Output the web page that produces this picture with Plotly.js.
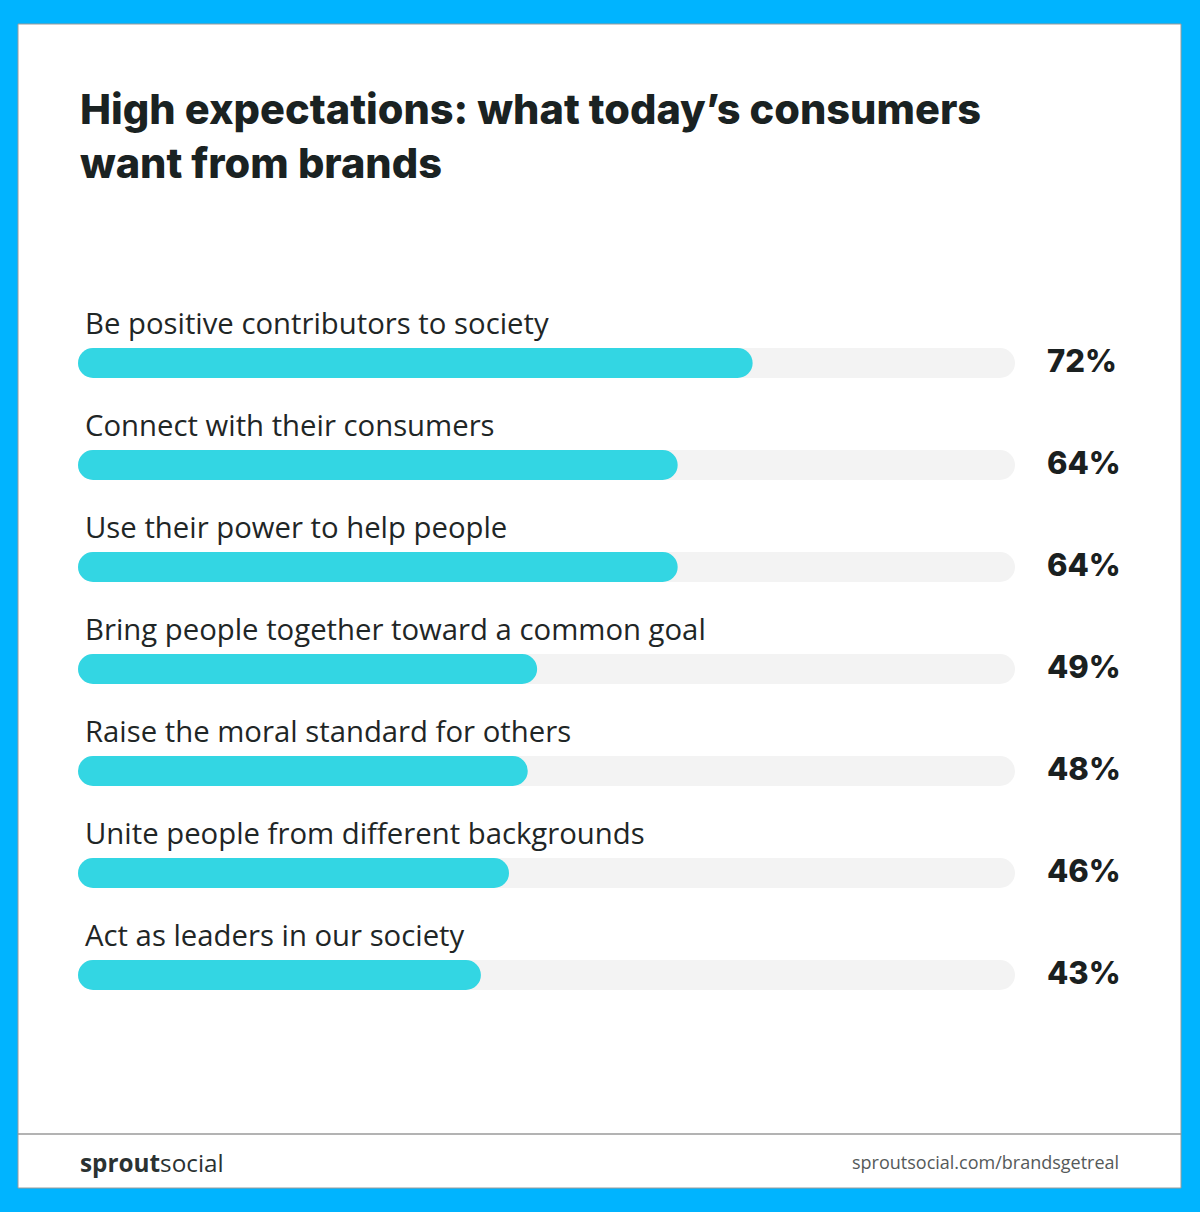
<!DOCTYPE html>
<html><head><meta charset="utf-8">
<script src="https://cdn.plot.ly/plotly-3.0.1.min.js"></script>
<style>html,body{margin:0;padding:0;background:#00B4FF;}#chart{width:1200px;height:1212px;}</style>
</head><body><div id="chart"></div>
<script>
const categories = [
  "Be positive contributors to society",
  "Connect with their consumers",
  "Use their power to help people",
  "Bring people together toward a common goal",
  "Raise the moral standard for others",
  "Unite people from different backgrounds",
  "Act as leaders in our society"
];
const values = [72, 64, 64, 49, 48, 46, 43];
const trackMax = 100;
const titleText = "High expectations: what today’s consumers<br>want from brands";
const footerLeftBold = "sprout";
const footerLeftRegular = "social";
const footerRight = "sproutsocial.com/brandsgetreal";

const W = 1200, H = 1212;
const L = 78, R = 1015, T = 312, B = 1026;
const px2x = p => (p - L) / (R - L);
const py2y = p => (B - p) / (B - T);
const barPx = 30;
const slotPx = (B - T) / categories.length;
const floatBase = 1e-6; // tiny non-zero base so both ends get rounded

const track = {
  type: 'bar', orientation: 'h', y: categories, base: floatBase, x: categories.map(() => trackMax - floatBase),
  marker: {color: '#F3F3F3', cornerradius: '50%'}, width: barPx / slotPx, hoverinfo: 'skip'
};
const fill = {
  type: 'bar', orientation: 'h', y: categories, base: floatBase, x: values.map(v => v - floatBase),
  marker: {color: '#33D6E3', cornerradius: '50%'}, width: barPx / slotPx, hoverinfo: 'skip'
};

const annotations = [];
categories.forEach((c, i) => {
  annotations.push({xref: 'paper', yref: 'y', x: px2x(83), y: c, yshift: 40,
    text: c, showarrow: false, xanchor: 'left', yanchor: 'middle',
    font: {family: 'Open Sans, sans-serif', size: 29.3, color: '#1f2626'}});
  annotations.push({xref: 'paper', yref: 'y', x: px2x(1045), y: c, yshift: 3,
    text: values[i] + '%', showarrow: false, xanchor: 'left', yanchor: 'middle',
    font: {family: 'Inter, sans-serif', size: 31, color: '#1a2020', weight: 800}});
});
annotations.push({xref: 'paper', yref: 'paper', x: px2x(78), y: py2y(136), text: titleText,
  showarrow: false, xanchor: 'left', yanchor: 'middle', align: 'left',
  font: {family: 'Inter, sans-serif', size: 41.5, color: '#1a2222', weight: 800}});
annotations.push({xref: 'paper', yref: 'paper', x: px2x(78), y: py2y(1162),
  text: '<b>' + footerLeftBold + '</b>' + footerLeftRegular,
  showarrow: false, xanchor: 'left', yanchor: 'middle',
  font: {family: 'Open Sans, sans-serif', size: 24.3, color: '#2b3232'}});
annotations.push({xref: 'paper', yref: 'paper', x: px2x(1121), y: py2y(1162),
  text: footerRight, showarrow: false, xanchor: 'right', yanchor: 'middle',
  font: {family: 'Open Sans, sans-serif', size: 18, color: '#555a5a'}});

const shapes = [
  {type: 'rect', xref: 'paper', yref: 'paper', x0: px2x(18), x1: px2x(1181), y0: py2y(1188), y1: py2y(24),
   fillcolor: '#FFFFFF', line: {color: '#9a9a9a', width: 1}, layer: 'below'},
  {type: 'line', xref: 'paper', yref: 'paper', x0: px2x(18), x1: px2x(1181), y0: py2y(1134), y1: py2y(1134),
   line: {color: '#9a9a9a', width: 1.5}, layer: 'above'}
];

const layout = {
  width: W, height: H,
  margin: {l: L, r: W - R, t: T, b: H - B, pad: 0},
  paper_bgcolor: '#00B4FF', plot_bgcolor: 'rgba(0,0,0,0)',
  barmode: 'overlay', showlegend: false,
  xaxis: {range: [0, trackMax], visible: false, fixedrange: true},
  yaxis: {type: 'category', categoryarray: categories, categoryorder: 'array',
          range: [categories.length - 0.5, -0.5], visible: false, fixedrange: true},
  annotations: annotations, shapes: shapes
};
Plotly.newPlot('chart', [track, fill], layout, {staticPlot: true, displayModeBar: false});
</script></body></html>
